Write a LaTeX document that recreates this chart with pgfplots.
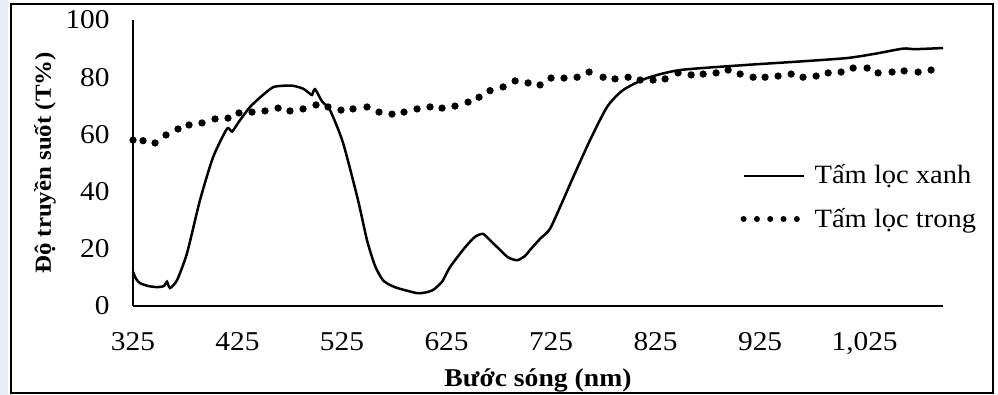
\documentclass[border=0pt]{standalone}
\usepackage{fontspec}
\setmainfont{Liberation Serif}[FakeStretch=1.08]
\usepackage{pgfplots}
\pgfplotsset{compat=1.18}
\definecolor{stripc}{HTML}{E8EBF6}
\begin{document}
\begin{tikzpicture}
\useasboundingbox (-66.5pt,-44.5pt) rectangle (432.5pt,153pt);
\fill[stripc] (-66.5pt,-44.5pt) rectangle (-62.5pt,153pt);
\draw[line width=0.8pt] (-61pt,-43.5pt) rectangle (430pt,151pt);
\begin{axis}[
  scale only axis, width=405pt, height=143pt,
  xmin=325, xmax=1100, ymin=0, ymax=100,
  axis x line=bottom, axis y line=left,
  axis line style={line width=1pt,-},
  xtick={325,425,525,625,725,825,925,1025}, ytick={0,20,40,60,80,100},
  major tick length=0pt,
  /pgf/number format/assume math mode=true,
  /pgf/number format/1000 sep={,},
  tick label style={font=\fontsize{13.6}{15}\selectfont},
  xticklabel style={anchor=north, inner sep=0pt, yshift=-13pt},
  yticklabel style={anchor=east, inner sep=0pt, xshift=-11.5pt},
  xlabel={Bước sóng (nm)},
  xlabel style={at={(axis description cs:0.5,0)}, anchor=base, yshift=-40.5pt, font=\bfseries\fontsize{12.8}{14}\selectfont},
  ylabel={Độ truyền suốt (T\%)},
  ylabel style={at={(axis description cs:0,0.5)}, anchor=center, rotate=0, yshift=44pt, font=\bfseries\fontsize{11.5}{14}\selectfont},
  legend style={draw=none, fill=none, inner sep=0pt, at={(axis cs:906,49.5)}, anchor=north west,
    font=\fontsize{13.2}{15}\selectfont, row sep=10.5pt, column sep=4pt, nodes={inner sep=0pt}},
  legend cell align=left,
  clip=false,
]
\addplot[black, line width=1.25pt, smooth, tension=0.4,
  legend image code/.code={\draw[black, line width=1.25pt] (0pt,0pt) -- (30pt,0pt);}]
coordinates {
(325,12) (327.9,9.5) (331.7,8) (339.4,7) (348,6.6) (354.7,7) (357.5,8.5) (360.4,6.3)
(367.1,9) (376.7,18.5) (389.1,37) (401.6,52) (415,62) (419.8,61) (427.4,65) (437,69.6)
(448.4,73.5) (459,76.5) (468.5,77) (478.1,77) (487.7,76) (494.4,74.2) (496.3,73.8) (499.2,75.8)
(505.9,71.5) (513.5,68.5) (526,57) (540.3,37) (548.9,23) (556.6,14) (564.2,9) (572.8,7)
(580.5,6) (596.8,4.5) (604.4,4.7) (612.1,5.6) (620.7,8.5) (628.3,13.6) (642.7,20.5) (652.3,24.2)
(659.9,25.2) (666.6,23) (676.2,19.6) (683.9,17) (692.5,16) (700.1,17.5) (704.9,19.6) (714.5,23.5)
(724,27) (736.5,37) (746.1,45) (762.3,58) (778.6,69.6) (793.9,75.5) (816.9,79.7) (848.4,82.5)
(912.6,84.3) (963.3,85.5) (1008.3,86.7) (1035,88.2) (1061.8,90) (1073.3,89.8) (1100,90.2)
};
\addlegendentry{Tấm lọc xanh}
\addplot[black, only marks, mark=*, mark size=1.6pt,
  legend image code/.code={\draw[black, line width=3pt, line cap=round, dash pattern=on 0pt off 6.65pt] (0pt,0pt) -- (30pt,0pt);}]
coordinates {
(325,58) (334.6,57.8) (346.1,57) (356.6,59.8) (368.1,61.9) (378.6,63.3) (391,64) (403.5,65.4)
(415.9,65.7) (426.4,67.5) (438.9,67.8) (451.3,68.2) (463.8,69.2) (475.2,68.2) (487.7,68.9) (500.1,70.3)
(511.6,69.6) (524,68.5) (535.5,68.9) (548.9,69.6) (560.4,67.8) (572.8,67.1) (584.3,67.8) (596.8,68.9)
(609.2,69.6) (620.7,69.2) (633.1,69.9) (645.6,71.3) (656.1,73) (666.6,75.3) (679.1,76.6) (690.6,78.7)
(703,78) (714.5,77.3) (725,79.7) (737.4,79.7) (749.9,80) (761.4,81.8) (774.8,80) (786.2,79.4)
(798.7,80) (810.2,79) (822.6,79) (834.1,79.4) (846.5,81.5) (859,80.8) (870.5,81.1) (882.9,81.5)
(894.4,82.5) (905.9,81.1) (918.3,80) (929.8,80) (942.2,80.4) (954.7,81.1) (966.1,80) (978.6,80.4)
(990.1,81.5) (1002.5,81.8) (1014,83.2) (1027.4,83.2) (1037.9,81.5) (1051.3,81.8) (1062.8,82.2) (1076.2,81.8)
(1088.6,82.5)
};
\addlegendentry{Tấm lọc trong}
\end{axis}
\end{tikzpicture}
\end{document}
